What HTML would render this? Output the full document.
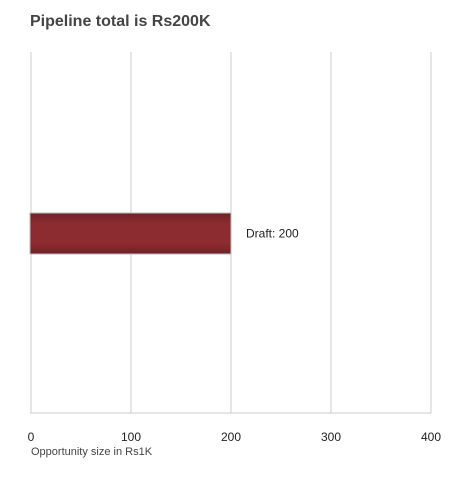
<!DOCTYPE html>
<html><head><meta charset="utf-8"><style>
body{margin:0;background:#fff;width:451px;height:480px;overflow:hidden;font-family:"Liberation Sans",sans-serif}
</style></head><body>
<svg width="451" height="480">
<defs><linearGradient id="g" x1="0" y1="0" x2="0" y2="1">
<stop offset="0" stop-color="#6e2226"/><stop offset="0.25" stop-color="#8c2b30"/><stop offset="0.75" stop-color="#8c2b30"/><stop offset="1" stop-color="#6e2226"/></linearGradient></defs>
<text x="30" y="26" font-size="16" font-weight="bold" fill="#444">Pipeline total is Rs200K</text>
<g id="grid"></g><g id="bars"></g><g id="ticks"></g>
<text x="31" y="455" font-size="11" fill="#444">Opportunity size in Rs1K</text>
</svg>
<script>
const categories=["Draft"];
const values=[200];
const tickLabels=[0,100,200,300,400];
const ns="http://www.w3.org/2000/svg";
const x=v=>31+v;
const top0=52,bottom=413;
function mk(t,a,p){const e=document.createElementNS(ns,t);for(const k in a)e.setAttribute(k,a[k]);p.appendChild(e);return e;}
const grid=document.getElementById('grid'),ticks=document.getElementById('ticks'),bars=document.getElementById('bars');
tickLabels.forEach(t=>{
 const l=mk('line',{x1:x(t),x2:x(t),y1:top0,y2:bottom,stroke:'#ccc','stroke-width':1},grid);
 
 
 const tx=mk('text',{x:x(t),y:441,'font-size':12,fill:'#222','text-anchor':'middle'},ticks);
 tx.textContent=t;
 
 
});
const base=mk('line',{x1:30,x2:x(400),y1:bottom,y2:bottom,stroke:'#ccc','stroke-width':1},grid);


const bandH=361/categories.length;
categories.forEach((c,i)=>{
 const cy=top0+bandH*(i+0.5)+1;
 const r=mk('rect',{x:30,y:cy-20.5,width:x(values[i])-30,height:41,fill:'url(#g)',stroke:'#bbb','stroke-width':1},bars);
 
 
 const t=mk('text',{x:x(values[i])+15,y:cy+4,'font-size':12,fill:'#222'},bars);
 t.textContent=c+": "+values[i];
 
 
});
</script>
</body></html>
